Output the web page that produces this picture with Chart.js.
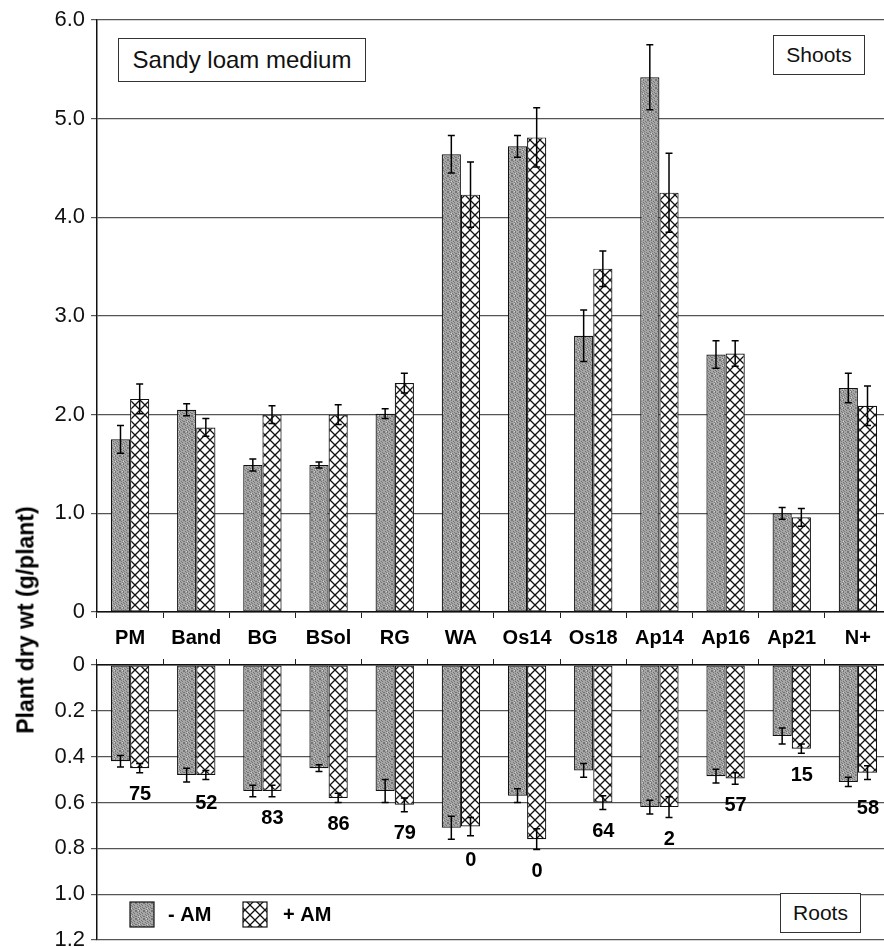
<!DOCTYPE html>
<html>
<head>
<meta charset="utf-8">
<script src="https://cdn.jsdelivr.net/npm/chart.js@4.4.0/dist/chart.umd.min.js"></script>
<style>
  body { margin: 0; background: #fff; overflow: hidden; }
  #wrap { position: relative; width: 884px; height: 947px; overflow: hidden; background: #fff; }
  canvas { position: absolute; left: 0; }
  .box { position: absolute; border: 1.5px solid #333; background: #fff; box-sizing: border-box;
         font-family: "Liberation Sans", Arial, sans-serif; font-size: 21px; color: #111; text-align: center; }
  #ytitle { position: absolute; left: 26px; top: 620px; white-space: nowrap;
            transform: translate(-50%, -50%) rotate(-90deg);
            font-family: "Liberation Sans", Arial, sans-serif; font-weight: bold; font-size: 23px; color: #000; }
</style>
</head>
<body>
<div id="wrap">
  <canvas id="shoots" width="900" height="655" style="top:0"></canvas>
  <canvas id="roots" width="900" height="292" style="top:655px"></canvas>
  <div class="box" style="left:118px;top:38px;width:248px;height:44px;line-height:41px;font-size:24px;">Sandy loam medium</div>
  <div class="box" style="left:773px;top:35px;width:92px;height:40px;line-height:37px;">Shoots</div>
  <div class="box" style="left:780px;top:893px;width:81px;height:40px;line-height:37px;">Roots</div>
  <div id="ytitle">Plant dry wt (g/plant)</div>
</div>
<script>
// values
const categories = ['PM', 'Band', 'BG', 'BSol', 'RG', 'WA', 'Os14', 'Os18', 'Ap14', 'Ap16', 'Ap21', 'N+'];
const seriesNames = ['- AM', '+ AM'];

const shootMinusAM = [1.75, 2.05, 1.49, 1.49, 2.01, 4.64, 4.72, 2.80, 5.42, 2.61, 1.00, 2.27];
const shootPlusAM  = [2.16, 1.87, 2.00, 2.00, 2.32, 4.23, 4.81, 3.48, 4.25, 2.62, 0.96, 2.09];
const shootErrMinusAM = [0.14, 0.06, 0.06, 0.03, 0.05, 0.19, 0.11, 0.26, 0.33, 0.14, 0.06, 0.15];
const shootErrPlusAM  = [0.15, 0.09, 0.09, 0.10, 0.10, 0.33, 0.30, 0.18, 0.40, 0.13, 0.09, 0.20];

const rootMinusAM = [0.42, 0.48, 0.55, 0.45, 0.55, 0.71, 0.57, 0.46, 0.62, 0.485, 0.31, 0.51];
const rootPlusAM  = [0.45, 0.48, 0.55, 0.58, 0.61, 0.705, 0.76, 0.60, 0.62, 0.495, 0.365, 0.47];
const rootErrMinusAM = [0.025, 0.03, 0.025, 0.015, 0.05, 0.05, 0.03, 0.03, 0.03, 0.03, 0.035, 0.02];
const rootErrPlusAM  = [0.02, 0.02, 0.025, 0.02, 0.03, 0.04, 0.045, 0.03, 0.045, 0.025, 0.02, 0.03];

// % colonisation printed under the root bars
const colonisation = ['75', '52', '83', '86', '79', '0', '0', '64', '2', '57', '15', '58'];

const FONT = '"Liberation Sans", Arial, sans-serif';

// grey stipple fill for -AM
function stipple() {
  const c = document.createElement('canvas');
  c.width = 8; c.height = 8;
  const g = c.getContext('2d');
  g.fillStyle = '#a6a6a6';
  g.fillRect(0, 0, 8, 8);
  for (let i = 0; i < 8; i++) {
    for (let j = 0; j < 8; j++) {
      if ((i * 5 + j * 3) % 7 < 2) { g.fillStyle = '#767676'; g.fillRect(i, j, 1, 1); }
      else if ((i * 3 + j * 7) % 11 === 0) { g.fillStyle = '#d2d2d2'; g.fillRect(i, j, 1, 1); }
    }
  }
  return g.createPattern(c, 'repeat');
}

// cross hatch fill for +AM
function hatch() {
  const c = document.createElement('canvas');
  c.width = 10; c.height = 10;
  const g = c.getContext('2d');
  g.fillStyle = '#fff';
  g.fillRect(0, 0, 10, 10);
  g.strokeStyle = '#111';
  g.lineWidth = 1.3;
  g.beginPath();
  g.moveTo(-1, -1); g.lineTo(11, 11);
  g.moveTo(11, -1); g.lineTo(-1, 11);
  g.stroke();
  return g.createPattern(c, 'repeat');
}

const fillMinus = stipple();
const fillPlus = hatch();

const errorBars = {
  id: 'errorBars',
  afterDatasetsDraw(chart) {
    const ctx = chart.ctx;
    const y = chart.scales.y;
    chart.data.datasets.forEach((ds, di) => {
      chart.getDatasetMeta(di).data.forEach((bar, i) => {
        const y1 = y.getPixelForValue(ds.data[i] - ds.err[i]);
        const y2 = y.getPixelForValue(ds.data[i] + ds.err[i]);
        ctx.save();
        ctx.strokeStyle = '#000';
        ctx.lineWidth = 1.5;
        ctx.beginPath();
        ctx.moveTo(bar.x, y1); ctx.lineTo(bar.x, y2);
        ctx.moveTo(bar.x - 3.5, y1); ctx.lineTo(bar.x + 3.5, y1);
        ctx.moveTo(bar.x - 3.5, y2); ctx.lineTo(bar.x + 3.5, y2);
        ctx.stroke();
        ctx.restore();
      });
    });
  }
};

function tickText(v) {
  return v === 0 ? '0' : v.toFixed(1);
}

// keep the plot box where the layout padding puts it
function fitY(s) {
  s.width = 97;
  s.paddingTop = 0;
  s.paddingBottom = 0;
}

function datasets(a, b, ea, eb) {
  return [
    { label: seriesNames[0], data: a, err: ea, backgroundColor: fillMinus, borderColor: '#111', borderWidth: 1.2, borderSkipped: false },
    { label: seriesNames[1], data: b, err: eb, backgroundColor: fillPlus, borderColor: '#111', borderWidth: 1.2, borderSkipped: false }
  ];
}

const common = {
  responsive: false,
  animation: false,
  categoryPercentage: 0.58,
  barPercentage: 1.0,
  plugins: { legend: { display: false }, tooltip: { enabled: false } }
};

// shoots, upper panel
new Chart(document.getElementById('shoots'), {
  type: 'bar',
  data: { labels: categories, datasets: datasets(shootMinusAM, shootPlusAM, shootErrMinusAM, shootErrPlusAM) },
  options: Object.assign({}, common, {
    layout: { padding: { top: 20, right: 9, left: 0, bottom: 0 } },
    scales: {
      x: {
        grid: { drawOnChartArea: false, tickLength: 6, color: '#222', offset: true },
        border: { color: '#111', width: 1.5 },
        ticks: { color: '#000', padding: 8, font: { family: FONT, size: 20, weight: 'bold' } },
        afterFit(s) { s.height = 43; }
      },
      y: {
        min: 0, max: 6,
        ticks: { stepSize: 1, color: '#111', padding: 6, font: { family: FONT, size: 22 }, callback: tickText },
        grid: { color: '#555', lineWidth: 1.2, tickLength: 6 },
        border: { color: '#111', width: 1.5 },
        afterFit: fitY
      }
    }
  }),
  plugins: [errorBars]
});

const colonLabels = {
  id: 'colonLabels',
  afterDatasetsDraw(chart) {
    const ctx = chart.ctx;
    const y = chart.scales.y, x = chart.scales.x;
    ctx.save();
    ctx.fillStyle = '#000';
    ctx.font = 'bold 20px ' + FONT;
    ctx.textAlign = 'center';
    ctx.textBaseline = 'middle';
    colonisation.forEach((t, i) => {
      const low = Math.max(rootMinusAM[i] + rootErrMinusAM[i], rootPlusAM[i] + rootErrPlusAM[i]);
      ctx.fillText(t, x.getPixelForValue(i) + 10, y.getPixelForValue(low + 0.095));
    });
    ctx.restore();
  }
};

const rootLegend = {
  id: 'rootLegend',
  afterDraw(chart) {
    const ctx = chart.ctx;
    const items = [[130, fillMinus, 168], [243, fillPlus, 283]];
    ctx.save();
    ctx.font = 'bold 20px ' + FONT;
    ctx.textBaseline = 'middle';
    items.forEach((it, k) => {
      ctx.fillStyle = it[1];
      ctx.fillRect(it[0], 247, 24, 25);
      ctx.strokeStyle = '#111';
      ctx.lineWidth = 1.2;
      ctx.strokeRect(it[0], 247, 24, 25);
      ctx.fillStyle = '#000';
      ctx.fillText(seriesNames[k], it[2], 260);
    });
    ctx.restore();
  }
};

// roots, lower panel (axis runs downwards)
new Chart(document.getElementById('roots'), {
  type: 'bar',
  data: { labels: categories, datasets: datasets(rootMinusAM, rootPlusAM, rootErrMinusAM, rootErrPlusAM) },
  options: Object.assign({}, common, {
    layout: { padding: { top: 2, right: 9, left: 0, bottom: 7 } },
    scales: {
      x: {
        position: 'top',
        grid: { drawOnChartArea: false, tickLength: 6, color: '#222', offset: true },
        border: { color: '#111', width: 1.5 },
        ticks: { callback: () => '' },
        afterFit(s) { s.height = 8; }
      },
      y: {
        reverse: true,
        min: 0, max: 1.2,
        ticks: { stepSize: 0.2, color: '#111', padding: 6, font: { family: FONT, size: 22 }, callback: tickText },
        grid: { color: '#555', lineWidth: 1.2, tickLength: 6 },
        border: { color: '#111', width: 1.5 },
        afterFit: fitY
      }
    }
  }),
  plugins: [errorBars, colonLabels, rootLegend]
});
</script>
</body>
</html>
